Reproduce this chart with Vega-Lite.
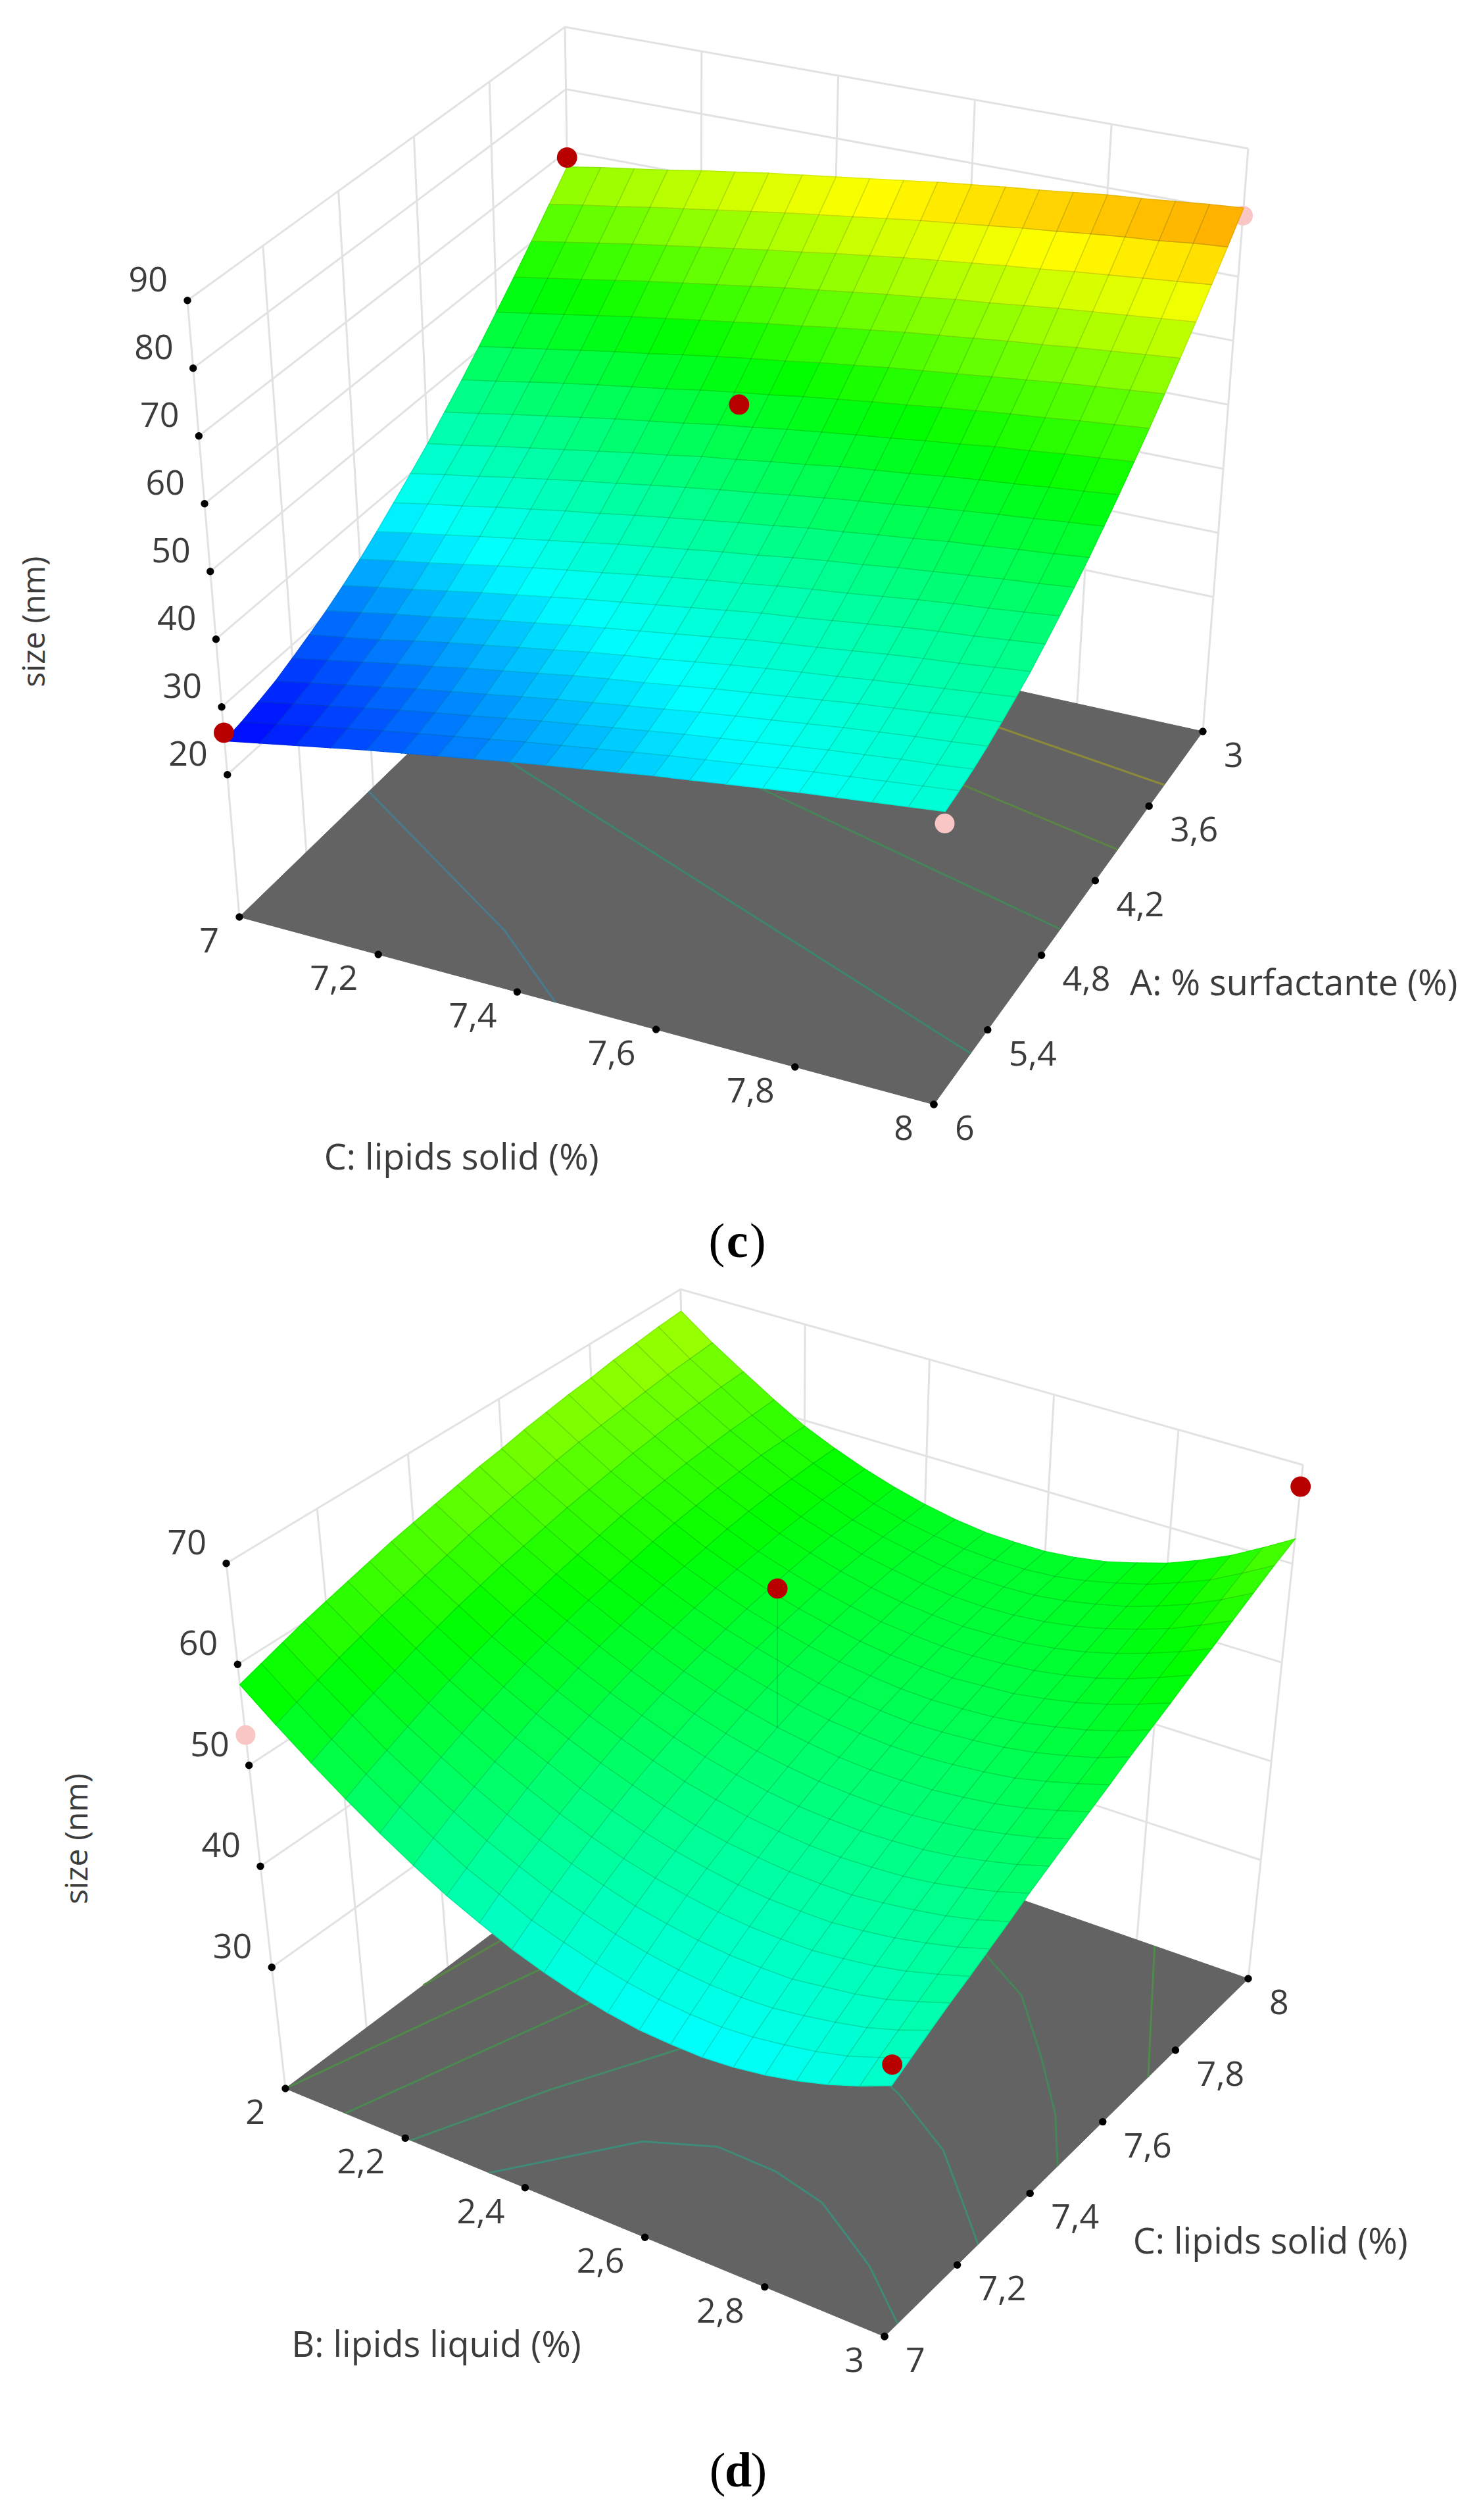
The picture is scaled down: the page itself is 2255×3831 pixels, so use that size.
{"$schema":"https://vega.github.io/schema/vega-lite/v6.json","autosize":{"type":"fit","contains":"padding"},"width":2255,"height":3831,"padding":0,"background":"white","config":{"view":{"stroke":null}},
"params":[{"name":"P","value":{"c":{"f":-1,"x":[364,1420,1829,873],"y":[1394,1679,1112,901],"s":[-0.868,0.41,0.758,-0.154],"r":[10.3,10.6,9.74,9.45]},"d":{"f":18,"x":[434,1345,1898,1051],"y":[3175,3552,3008,2713],"s":[-1.73,0.45,1.6,-0.31],"r":[15.35,15.9,15.02,14.48]}}}],
"data":{"values":[
{"k":"g","g":"c20","p":"c","h":7,"w":6,"z":20},{"k":"g","g":"c20","p":"c","h":7,"w":3,"z":20},{"k":"g","g":"c20","p":"c","h":8,"w":3,"z":20},
{"k":"g","g":"c30","p":"c","h":7,"w":6,"z":30},{"k":"g","g":"c30","p":"c","h":7,"w":3,"z":30},{"k":"g","g":"c30","p":"c","h":8,"w":3,"z":30},
{"k":"g","g":"c40","p":"c","h":7,"w":6,"z":40},{"k":"g","g":"c40","p":"c","h":7,"w":3,"z":40},{"k":"g","g":"c40","p":"c","h":8,"w":3,"z":40},
{"k":"g","g":"c50","p":"c","h":7,"w":6,"z":50},{"k":"g","g":"c50","p":"c","h":7,"w":3,"z":50},{"k":"g","g":"c50","p":"c","h":8,"w":3,"z":50},
{"k":"g","g":"c60","p":"c","h":7,"w":6,"z":60},{"k":"g","g":"c60","p":"c","h":7,"w":3,"z":60},{"k":"g","g":"c60","p":"c","h":8,"w":3,"z":60},
{"k":"g","g":"c70","p":"c","h":7,"w":6,"z":70},{"k":"g","g":"c70","p":"c","h":7,"w":3,"z":70},{"k":"g","g":"c70","p":"c","h":8,"w":3,"z":70},
{"k":"g","g":"c80","p":"c","h":7,"w":6,"z":80},{"k":"g","g":"c80","p":"c","h":7,"w":3,"z":80},{"k":"g","g":"c80","p":"c","h":8,"w":3,"z":80},
{"k":"g","g":"c90","p":"c","h":7,"w":6,"z":90},{"k":"g","g":"c90","p":"c","h":7,"w":3,"z":90},{"k":"g","g":"c90","p":"c","h":8,"w":3,"z":90},
{"k":"g","g":"cv1","p":"c","h":7,"w":6,"z":-1},{"k":"g","g":"cv1","p":"c","h":7,"w":6,"z":90},
{"k":"g","g":"cv2","p":"c","h":7,"w":5.4,"z":-1},{"k":"g","g":"cv2","p":"c","h":7,"w":5.4,"z":90},
{"k":"g","g":"cv3","p":"c","h":7,"w":4.8,"z":-1},{"k":"g","g":"cv3","p":"c","h":7,"w":4.8,"z":90},
{"k":"g","g":"cv4","p":"c","h":7,"w":4.2,"z":-1},{"k":"g","g":"cv4","p":"c","h":7,"w":4.2,"z":90},
{"k":"g","g":"cv5","p":"c","h":7,"w":3.6,"z":-1},{"k":"g","g":"cv5","p":"c","h":7,"w":3.6,"z":90},
{"k":"g","g":"cv6","p":"c","h":7,"w":3,"z":-1},{"k":"g","g":"cv6","p":"c","h":7,"w":3,"z":90},
{"k":"g","g":"cv7","p":"c","h":7.2,"w":3,"z":-1},{"k":"g","g":"cv7","p":"c","h":7.2,"w":3,"z":90},
{"k":"g","g":"cv8","p":"c","h":7.4,"w":3,"z":-1},{"k":"g","g":"cv8","p":"c","h":7.4,"w":3,"z":90},
{"k":"g","g":"cv9","p":"c","h":7.6,"w":3,"z":-1},{"k":"g","g":"cv9","p":"c","h":7.6,"w":3,"z":90},
{"k":"g","g":"cv10","p":"c","h":7.8,"w":3,"z":-1},{"k":"g","g":"cv10","p":"c","h":7.8,"w":3,"z":90},
{"k":"g","g":"cv11","p":"c","h":8,"w":3,"z":-1},{"k":"g","g":"cv11","p":"c","h":8,"w":3,"z":90},
{"k":"g","g":"d30","p":"d","h":2,"w":7,"z":30},{"k":"g","g":"d30","p":"d","h":2,"w":8,"z":30},{"k":"g","g":"d30","p":"d","h":3,"w":8,"z":30},
{"k":"g","g":"d40","p":"d","h":2,"w":7,"z":40},{"k":"g","g":"d40","p":"d","h":2,"w":8,"z":40},{"k":"g","g":"d40","p":"d","h":3,"w":8,"z":40},
{"k":"g","g":"d50","p":"d","h":2,"w":7,"z":50},{"k":"g","g":"d50","p":"d","h":2,"w":8,"z":50},{"k":"g","g":"d50","p":"d","h":3,"w":8,"z":50},
{"k":"g","g":"d60","p":"d","h":2,"w":7,"z":60},{"k":"g","g":"d60","p":"d","h":2,"w":8,"z":60},{"k":"g","g":"d60","p":"d","h":3,"w":8,"z":60},
{"k":"g","g":"d70","p":"d","h":2,"w":7,"z":70},{"k":"g","g":"d70","p":"d","h":2,"w":8,"z":70},{"k":"g","g":"d70","p":"d","h":3,"w":8,"z":70},
{"k":"g","g":"dv1","p":"d","h":2,"w":7,"z":18},{"k":"g","g":"dv1","p":"d","h":2,"w":7,"z":70},
{"k":"g","g":"dv2","p":"d","h":2,"w":7.2,"z":18},{"k":"g","g":"dv2","p":"d","h":2,"w":7.2,"z":70},
{"k":"g","g":"dv3","p":"d","h":2,"w":7.4,"z":18},{"k":"g","g":"dv3","p":"d","h":2,"w":7.4,"z":70},
{"k":"g","g":"dv4","p":"d","h":2,"w":7.6,"z":18},{"k":"g","g":"dv4","p":"d","h":2,"w":7.6,"z":70},
{"k":"g","g":"dv5","p":"d","h":2,"w":7.8,"z":18},{"k":"g","g":"dv5","p":"d","h":2,"w":7.8,"z":70},
{"k":"g","g":"dv6","p":"d","h":2,"w":8,"z":18},{"k":"g","g":"dv6","p":"d","h":2,"w":8,"z":70},
{"k":"g","g":"dv7","p":"d","h":2.2,"w":8,"z":18},{"k":"g","g":"dv7","p":"d","h":2.2,"w":8,"z":70},
{"k":"g","g":"dv8","p":"d","h":2.4,"w":8,"z":18},{"k":"g","g":"dv8","p":"d","h":2.4,"w":8,"z":70},
{"k":"g","g":"dv9","p":"d","h":2.6,"w":8,"z":18},{"k":"g","g":"dv9","p":"d","h":2.6,"w":8,"z":70},
{"k":"g","g":"dv10","p":"d","h":2.8,"w":8,"z":18},{"k":"g","g":"dv10","p":"d","h":2.8,"w":8,"z":70},
{"k":"g","g":"dv11","p":"d","h":3,"w":8,"z":18},{"k":"g","g":"dv11","p":"d","h":3,"w":8,"z":70},
{"k":"f","g":"c","p":"c","h":7,"w":6,"z":-1},{"k":"f","g":"c","p":"c","h":8,"w":6,"z":-1},{"k":"f","g":"c","p":"c","h":8,"w":3,"z":-1},{"k":"f","g":"c","p":"c","h":7,"w":3,"z":-1},
{"k":"f","g":"d","p":"d","h":2,"w":7,"z":18},{"k":"f","g":"d","p":"d","h":3,"w":7,"z":18},{"k":"f","g":"d","p":"d","h":3,"w":8,"z":18},{"k":"f","g":"d","p":"d","h":2,"w":8,"z":18},
{"k":"n","g":"c1","p":"c","h":7,"w":4.84,"z":-1},{"k":"n","g":"c1","p":"c","h":7.214,"w":5.34,"z":-1},{"k":"n","g":"c1","p":"c","h":7.32,"w":5.59,"z":-1},{"k":"n","g":"c1","p":"c","h":7.455,"w":6,"z":-1},
{"k":"n","g":"c2","p":"c","h":7,"w":4.17,"z":-1},{"k":"n","g":"c2","p":"c","h":7.116,"w":4.34,"z":-1},{"k":"n","g":"c2","p":"c","h":7.524,"w":4.92,"z":-1},{"k":"n","g":"c2","p":"c","h":8,"w":5.59,"z":-1},
{"k":"n","g":"c3","p":"c","h":7,"w":3.69,"z":-1},{"k":"n","g":"c3","p":"c","h":7.413,"w":4.06,"z":-1},{"k":"n","g":"c3","p":"c","h":8,"w":4.59,"z":-1},
{"k":"n","g":"c4","p":"c","h":7.5,"w":3.59,"z":-1},{"k":"n","g":"c4","p":"c","h":7.727,"w":3.75,"z":-1},{"k":"n","g":"c4","p":"c","h":8,"w":3.95,"z":-1},
{"k":"n","g":"c5","p":"c","h":7.6,"w":3.2,"z":-1},{"k":"n","g":"c5","p":"c","h":7.718,"w":3.29,"z":-1},{"k":"n","g":"c5","p":"c","h":8,"w":3.43,"z":-1},
{"k":"n","g":"d0","p":"d","h":2,"w":7.34,"z":18},{"k":"n","g":"d0","p":"d","h":2.02,"w":7.5,"z":18},{"k":"n","g":"d0","p":"d","h":2.1,"w":7.8,"z":18},
{"k":"n","g":"d1","p":"d","h":2,"w":7,"z":18},{"k":"n","g":"d1","p":"d","h":2.108,"w":7.467,"z":18},{"k":"n","g":"d1","p":"d","h":2.2,"w":7.9,"z":18},
{"k":"n","g":"d2","p":"d","h":2.1,"w":7,"z":18},{"k":"n","g":"d2","p":"d","h":2.217,"w":7.446,"z":18},{"k":"n","g":"d2","p":"d","h":2.33,"w":7.9,"z":18},
{"k":"n","g":"d3","p":"d","h":2.209,"w":7,"z":18},{"k":"n","g":"d3","p":"d","h":2.295,"w":7.226,"z":18},{"k":"n","g":"d3","p":"d","h":2.398,"w":7.439,"z":18},{"k":"n","g":"d3","p":"d","h":2.5,"w":7.7,"z":18},
{"k":"n","g":"d4","p":"d","h":2.34,"w":7,"z":18},{"k":"n","g":"d4","p":"d","h":2.471,"w":7.194,"z":18},{"k":"n","g":"d4","p":"d","h":2.565,"w":7.245,"z":18},{"k":"n","g":"d4","p":"d","h":2.665,"w":7.242,"z":18},{"k":"n","g":"d4","p":"d","h":2.761,"w":7.216,"z":18},{"k":"n","g":"d4","p":"d","h":2.897,"w":7.127,"z":18},{"k":"n","g":"d4","p":"d","h":3,"w":7.036,"z":18},
{"k":"n","g":"d5","p":"d","h":2.6,"w":7.55,"z":18},{"k":"n","g":"d5","p":"d","h":2.711,"w":7.499,"z":18},{"k":"n","g":"d5","p":"d","h":2.839,"w":7.419,"z":18},{"k":"n","g":"d5","p":"d","h":2.968,"w":7.29,"z":18},{"k":"n","g":"d5","p":"d","h":3,"w":7.257,"z":18},
{"k":"n","g":"d6","p":"d","h":2.62,"w":7.86,"z":18},{"k":"n","g":"d6","p":"d","h":2.729,"w":7.798,"z":18},{"k":"n","g":"d6","p":"d","h":2.837,"w":7.686,"z":18},{"k":"n","g":"d6","p":"d","h":2.93,"w":7.58,"z":18},{"k":"n","g":"d6","p":"d","h":3,"w":7.476,"z":18},
{"k":"n","g":"d7","p":"d","h":2.832,"w":8,"z":18},{"k":"n","g":"d7","p":"d","h":2.9,"w":7.89,"z":18},{"k":"n","g":"d7","p":"d","h":3,"w":7.725,"z":18},
{"k":"t","a":"z","p":"c","h":7,"w":6,"z":20},{"k":"t","a":"z","p":"c","h":7,"w":6,"z":30},{"k":"t","a":"z","p":"c","h":7,"w":6,"z":40},{"k":"t","a":"z","p":"c","h":7,"w":6,"z":50},{"k":"t","a":"z","p":"c","h":7,"w":6,"z":60},{"k":"t","a":"z","p":"c","h":7,"w":6,"z":70},{"k":"t","a":"z","p":"c","h":7,"w":6,"z":80},{"k":"t","a":"z","p":"c","h":7,"w":6,"z":90},
{"k":"t","a":"u","p":"c","h":7,"w":6,"z":-1},{"k":"t","a":"u","p":"c","h":7.2,"w":6,"z":-1},{"k":"t","a":"u","p":"c","h":7.4,"w":6,"z":-1},{"k":"t","a":"u","p":"c","h":7.6,"w":6,"z":-1},{"k":"t","a":"u","p":"c","h":7.8,"w":6,"z":-1},{"k":"t","a":"u","p":"c","h":8,"w":6,"z":-1},
{"k":"t","a":"v","p":"c","h":8,"w":6,"z":-1},{"k":"t","a":"v","p":"c","h":8,"w":5.4,"z":-1},{"k":"t","a":"v","p":"c","h":8,"w":4.8,"z":-1},{"k":"t","a":"v","p":"c","h":8,"w":4.2,"z":-1},{"k":"t","a":"v","p":"c","h":8,"w":3.6,"z":-1},{"k":"t","a":"v","p":"c","h":8,"w":3,"z":-1},
{"k":"t","a":"z","p":"d","h":2,"w":7,"z":30},{"k":"t","a":"z","p":"d","h":2,"w":7,"z":40},{"k":"t","a":"z","p":"d","h":2,"w":7,"z":50},{"k":"t","a":"z","p":"d","h":2,"w":7,"z":60},{"k":"t","a":"z","p":"d","h":2,"w":7,"z":70},
{"k":"t","a":"u","p":"d","h":2,"w":7,"z":18},{"k":"t","a":"u","p":"d","h":2.2,"w":7,"z":18},{"k":"t","a":"u","p":"d","h":2.4,"w":7,"z":18},{"k":"t","a":"u","p":"d","h":2.6,"w":7,"z":18},{"k":"t","a":"u","p":"d","h":2.8,"w":7,"z":18},{"k":"t","a":"u","p":"d","h":3,"w":7,"z":18},
{"k":"t","a":"v","p":"d","h":3,"w":7,"z":18},{"k":"t","a":"v","p":"d","h":3,"w":7.2,"z":18},{"k":"t","a":"v","p":"d","h":3,"w":7.4,"z":18},{"k":"t","a":"v","p":"d","h":3,"w":7.6,"z":18},{"k":"t","a":"v","p":"d","h":3,"w":7.8,"z":18},{"k":"t","a":"v","p":"d","h":3,"w":8,"z":18},
{"k":"a","l":"C: lipids solid (%)","p":"c","h":7.504,"w":7.272,"z":-1},{"k":"a","l":"A: % surfactante (%)","p":"c","h":8.35,"w":4.575,"z":-1},
{"k":"a","l":"B: lipids liquid (%)","p":"d","h":2.508,"w":6.601,"z":18},{"k":"a","l":"C: lipids solid (%)","p":"d","h":3.362,"w":7.485,"z":18},
{"k":"y","l":"size (nm)","p":"c","h":7,"w":7.38,"z":62.2},{"k":"y","l":"size (nm)","p":"d","h":2,"w":6.62,"z":53.4},
{"k":"cap","b":"c","p":"c","h":7.889,"w":7.2975,"z":-1},{"k":"cap","b":"d","p":"d","h":2.99,"w":6.6145,"z":18},
{"k":"o","r":"low","p":"c","h":8,"w":3,"z":79.5},{"k":"o","r":"low","p":"c","h":8,"w":6,"z":39.3},{"k":"o","r":"low","p":"d","h":2,"w":7,"z":53},
{"k":"o","r":"high","p":"c","h":7,"w":3,"z":69},{"k":"o","r":"high","p":"c","h":7.5,"w":4.5,"z":64.5},{"k":"o","r":"high","p":"c","h":7,"w":6,"z":26.2},
{"k":"o","r":"high","p":"d","h":2.5,"w":7.5,"z":63.9},{"k":"o","r":"high","p":"d","h":3,"w":8,"z":67.8},{"k":"o","r":"high","p":"d","h":3,"w":7,"z":44},
{"k":"m","p":"d","h":2.5,"w":7.5,"z":63.9},{"k":"m","p":"d","h":2.5,"w":7.5,"z":50},
{"p":"c","h":7,"w":6,"z":25},{"p":"c","h":7.05,"w":6,"z":26},{"p":"c","h":7.1,"w":6,"z":27},{"p":"c","h":7.15,"w":6,"z":28},{"p":"c","h":7.2,"w":6,"z":29},{"p":"c","h":7.25,"w":6,"z":29.9},{"p":"c","h":7.3,"w":6,"z":30.8},{"p":"c","h":7.35,"w":6,"z":31.7},{"p":"c","h":7.4,"w":6,"z":32.6},{"p":"c","h":7.45,"w":6,"z":33.4},{"p":"c","h":7.5,"w":6,"z":34.2},{"p":"c","h":7.55,"w":6,"z":35},{"p":"c","h":7.6,"w":6,"z":35.8},{"p":"c","h":7.65,"w":6,"z":36.5},{"p":"c","h":7.7,"w":6,"z":37.2},{"p":"c","h":7.75,"w":6,"z":37.9},{"p":"c","h":7.8,"w":6,"z":38.6},{"p":"c","h":7.85,"w":6,"z":39.2},{"p":"c","h":7.9,"w":6,"z":39.8},{"p":"c","h":7.95,"w":6,"z":40.4},{"p":"c","h":8,"w":6,"z":41},
{"p":"c","h":7,"w":5.85,"z":25.5},{"p":"c","h":7.05,"w":5.85,"z":26.5},{"p":"c","h":7.1,"w":5.85,"z":27.5},{"p":"c","h":7.15,"w":5.85,"z":28.5},{"p":"c","h":7.2,"w":5.85,"z":29.5},{"p":"c","h":7.25,"w":5.85,"z":30.4},{"p":"c","h":7.3,"w":5.85,"z":31.3},{"p":"c","h":7.35,"w":5.85,"z":32.2},{"p":"c","h":7.4,"w":5.85,"z":33.1},{"p":"c","h":7.45,"w":5.85,"z":33.9},{"p":"c","h":7.5,"w":5.85,"z":34.7},{"p":"c","h":7.55,"w":5.85,"z":35.5},{"p":"c","h":7.6,"w":5.85,"z":36.3},{"p":"c","h":7.65,"w":5.85,"z":37},{"p":"c","h":7.7,"w":5.85,"z":37.7},{"p":"c","h":7.75,"w":5.85,"z":38.4},{"p":"c","h":7.8,"w":5.85,"z":39.1},{"p":"c","h":7.85,"w":5.85,"z":39.7},{"p":"c","h":7.9,"w":5.85,"z":40.3},{"p":"c","h":7.95,"w":5.85,"z":40.9},{"p":"c","h":8,"w":5.85,"z":41.5},
{"p":"c","h":7,"w":5.7,"z":26.2},{"p":"c","h":7.05,"w":5.7,"z":27.2},{"p":"c","h":7.1,"w":5.7,"z":28.2},{"p":"c","h":7.15,"w":5.7,"z":29.2},{"p":"c","h":7.2,"w":5.7,"z":30.2},{"p":"c","h":7.25,"w":5.7,"z":31.1},{"p":"c","h":7.3,"w":5.7,"z":32},{"p":"c","h":7.35,"w":5.7,"z":32.9},{"p":"c","h":7.4,"w":5.7,"z":33.8},{"p":"c","h":7.45,"w":5.7,"z":34.6},{"p":"c","h":7.5,"w":5.7,"z":35.4},{"p":"c","h":7.55,"w":5.7,"z":36.2},{"p":"c","h":7.6,"w":5.7,"z":37},{"p":"c","h":7.65,"w":5.7,"z":37.7},{"p":"c","h":7.7,"w":5.7,"z":38.4},{"p":"c","h":7.75,"w":5.7,"z":39.1},{"p":"c","h":7.8,"w":5.7,"z":39.8},{"p":"c","h":7.85,"w":5.7,"z":40.4},{"p":"c","h":7.9,"w":5.7,"z":41},{"p":"c","h":7.95,"w":5.7,"z":41.5},{"p":"c","h":8,"w":5.7,"z":42.1},
{"p":"c","h":7,"w":5.55,"z":27},{"p":"c","h":7.05,"w":5.55,"z":28},{"p":"c","h":7.1,"w":5.55,"z":29},{"p":"c","h":7.15,"w":5.55,"z":30},{"p":"c","h":7.2,"w":5.55,"z":31},{"p":"c","h":7.25,"w":5.55,"z":31.9},{"p":"c","h":7.3,"w":5.55,"z":32.8},{"p":"c","h":7.35,"w":5.55,"z":33.7},{"p":"c","h":7.4,"w":5.55,"z":34.6},{"p":"c","h":7.45,"w":5.55,"z":35.4},{"p":"c","h":7.5,"w":5.55,"z":36.2},{"p":"c","h":7.55,"w":5.55,"z":37},{"p":"c","h":7.6,"w":5.55,"z":37.8},{"p":"c","h":7.65,"w":5.55,"z":38.5},{"p":"c","h":7.7,"w":5.55,"z":39.2},{"p":"c","h":7.75,"w":5.55,"z":39.9},{"p":"c","h":7.8,"w":5.55,"z":40.6},{"p":"c","h":7.85,"w":5.55,"z":41.2},{"p":"c","h":7.9,"w":5.55,"z":41.8},{"p":"c","h":7.95,"w":5.55,"z":42.3},{"p":"c","h":8,"w":5.55,"z":42.9},
{"p":"c","h":7,"w":5.4,"z":28.1},{"p":"c","h":7.05,"w":5.4,"z":29.1},{"p":"c","h":7.1,"w":5.4,"z":30.1},{"p":"c","h":7.15,"w":5.4,"z":31.1},{"p":"c","h":7.2,"w":5.4,"z":32},{"p":"c","h":7.25,"w":5.4,"z":33},{"p":"c","h":7.3,"w":5.4,"z":33.9},{"p":"c","h":7.35,"w":5.4,"z":34.8},{"p":"c","h":7.4,"w":5.4,"z":35.7},{"p":"c","h":7.45,"w":5.4,"z":36.5},{"p":"c","h":7.5,"w":5.4,"z":37.2},{"p":"c","h":7.55,"w":5.4,"z":38},{"p":"c","h":7.6,"w":5.4,"z":38.8},{"p":"c","h":7.65,"w":5.4,"z":39.5},{"p":"c","h":7.7,"w":5.4,"z":40.2},{"p":"c","h":7.75,"w":5.4,"z":40.9},{"p":"c","h":7.8,"w":5.4,"z":41.6},{"p":"c","h":7.85,"w":5.4,"z":42.2},{"p":"c","h":7.9,"w":5.4,"z":42.8},{"p":"c","h":7.95,"w":5.4,"z":43.4},{"p":"c","h":8,"w":5.4,"z":43.9},
{"p":"c","h":7,"w":5.25,"z":29.3},{"p":"c","h":7.05,"w":5.25,"z":30.2},{"p":"c","h":7.1,"w":5.25,"z":31.1},{"p":"c","h":7.15,"w":5.25,"z":32.2},{"p":"c","h":7.2,"w":5.25,"z":33.2},{"p":"c","h":7.25,"w":5.25,"z":34.1},{"p":"c","h":7.3,"w":5.25,"z":35},{"p":"c","h":7.35,"w":5.25,"z":35.9},{"p":"c","h":7.4,"w":5.25,"z":36.8},{"p":"c","h":7.45,"w":5.25,"z":37.6},{"p":"c","h":7.5,"w":5.25,"z":38.3},{"p":"c","h":7.55,"w":5.25,"z":39.1},{"p":"c","h":7.6,"w":5.25,"z":39.9},{"p":"c","h":7.65,"w":5.25,"z":40.6},{"p":"c","h":7.7,"w":5.25,"z":41.3},{"p":"c","h":7.75,"w":5.25,"z":41.9},{"p":"c","h":7.8,"w":5.25,"z":42.6},{"p":"c","h":7.85,"w":5.25,"z":43.2},{"p":"c","h":7.9,"w":5.25,"z":43.8},{"p":"c","h":7.95,"w":5.25,"z":44.4},{"p":"c","h":8,"w":5.25,"z":45},
{"p":"c","h":7,"w":5.1,"z":30.6},{"p":"c","h":7.05,"w":5.1,"z":31.6},{"p":"c","h":7.1,"w":5.1,"z":32.6},{"p":"c","h":7.15,"w":5.1,"z":33.5},{"p":"c","h":7.2,"w":5.1,"z":34.5},{"p":"c","h":7.25,"w":5.1,"z":35.4},{"p":"c","h":7.3,"w":5.1,"z":36.3},{"p":"c","h":7.35,"w":5.1,"z":37.2},{"p":"c","h":7.4,"w":5.1,"z":38},{"p":"c","h":7.45,"w":5.1,"z":38.8},{"p":"c","h":7.5,"w":5.1,"z":39.6},{"p":"c","h":7.55,"w":5.1,"z":40.4},{"p":"c","h":7.6,"w":5.1,"z":41.2},{"p":"c","h":7.65,"w":5.1,"z":41.9},{"p":"c","h":7.7,"w":5.1,"z":42.5},{"p":"c","h":7.75,"w":5.1,"z":43.2},{"p":"c","h":7.8,"w":5.1,"z":43.9},{"p":"c","h":7.85,"w":5.1,"z":44.5},{"p":"c","h":7.9,"w":5.1,"z":45},{"p":"c","h":7.95,"w":5.1,"z":45.6},{"p":"c","h":8,"w":5.1,"z":46.2},
{"p":"c","h":7,"w":4.95,"z":32.1},{"p":"c","h":7.05,"w":4.95,"z":33.1},{"p":"c","h":7.1,"w":4.95,"z":34},{"p":"c","h":7.15,"w":4.95,"z":35},{"p":"c","h":7.2,"w":4.95,"z":36},{"p":"c","h":7.25,"w":4.95,"z":36.9},{"p":"c","h":7.3,"w":4.95,"z":37.8},{"p":"c","h":7.35,"w":4.95,"z":38.7},{"p":"c","h":7.4,"w":4.95,"z":39.5},{"p":"c","h":7.45,"w":4.95,"z":40.3},{"p":"c","h":7.5,"w":4.95,"z":41.1},{"p":"c","h":7.55,"w":4.95,"z":41.9},{"p":"c","h":7.6,"w":4.95,"z":42.7},{"p":"c","h":7.65,"w":4.95,"z":43.3},{"p":"c","h":7.7,"w":4.95,"z":44},{"p":"c","h":7.75,"w":4.95,"z":44.7},{"p":"c","h":7.8,"w":4.95,"z":45.4},{"p":"c","h":7.85,"w":4.95,"z":46},{"p":"c","h":7.9,"w":4.95,"z":46.5},{"p":"c","h":7.95,"w":4.95,"z":47.1},{"p":"c","h":8,"w":4.95,"z":47.7},
{"p":"c","h":7,"w":4.8,"z":33.8},{"p":"c","h":7.05,"w":4.8,"z":34.8},{"p":"c","h":7.1,"w":4.8,"z":35.7},{"p":"c","h":7.15,"w":4.8,"z":36.7},{"p":"c","h":7.2,"w":4.8,"z":37.7},{"p":"c","h":7.25,"w":4.8,"z":38.6},{"p":"c","h":7.3,"w":4.8,"z":39.5},{"p":"c","h":7.35,"w":4.8,"z":40.3},{"p":"c","h":7.4,"w":4.8,"z":41.2},{"p":"c","h":7.45,"w":4.8,"z":42},{"p":"c","h":7.5,"w":4.8,"z":42.8},{"p":"c","h":7.55,"w":4.8,"z":43.5},{"p":"c","h":7.6,"w":4.8,"z":44.3},{"p":"c","h":7.65,"w":4.8,"z":45},{"p":"c","h":7.7,"w":4.8,"z":45.6},{"p":"c","h":7.75,"w":4.8,"z":46.3},{"p":"c","h":7.8,"w":4.8,"z":47},{"p":"c","h":7.85,"w":4.8,"z":47.6},{"p":"c","h":7.9,"w":4.8,"z":48.1},{"p":"c","h":7.95,"w":4.8,"z":48.7},{"p":"c","h":8,"w":4.8,"z":49.3},
{"p":"c","h":7,"w":4.65,"z":35.7},{"p":"c","h":7.05,"w":4.65,"z":36.7},{"p":"c","h":7.1,"w":4.65,"z":37.6},{"p":"c","h":7.15,"w":4.65,"z":38.6},{"p":"c","h":7.2,"w":4.65,"z":39.5},{"p":"c","h":7.25,"w":4.65,"z":40.4},{"p":"c","h":7.3,"w":4.65,"z":41.3},{"p":"c","h":7.35,"w":4.65,"z":42.2},{"p":"c","h":7.4,"w":4.65,"z":43},{"p":"c","h":7.45,"w":4.65,"z":43.8},{"p":"c","h":7.5,"w":4.65,"z":44.6},{"p":"c","h":7.55,"w":4.65,"z":45.3},{"p":"c","h":7.6,"w":4.65,"z":46.1},{"p":"c","h":7.65,"w":4.65,"z":46.8},{"p":"c","h":7.7,"w":4.65,"z":47.4},{"p":"c","h":7.75,"w":4.65,"z":48.1},{"p":"c","h":7.8,"w":4.65,"z":48.7},{"p":"c","h":7.85,"w":4.65,"z":49.3},{"p":"c","h":7.9,"w":4.65,"z":49.9},{"p":"c","h":7.95,"w":4.65,"z":50.4},{"p":"c","h":8,"w":4.65,"z":51},
{"p":"c","h":7,"w":4.5,"z":37.8},{"p":"c","h":7.05,"w":4.5,"z":38.8},{"p":"c","h":7.1,"w":4.5,"z":39.7},{"p":"c","h":7.15,"w":4.5,"z":40.7},{"p":"c","h":7.2,"w":4.5,"z":41.6},{"p":"c","h":7.25,"w":4.5,"z":42.5},{"p":"c","h":7.3,"w":4.5,"z":43.3},{"p":"c","h":7.35,"w":4.5,"z":44.2},{"p":"c","h":7.4,"w":4.5,"z":45},{"p":"c","h":7.45,"w":4.5,"z":45.8},{"p":"c","h":7.5,"w":4.5,"z":46.6},{"p":"c","h":7.55,"w":4.5,"z":47.3},{"p":"c","h":7.6,"w":4.5,"z":48.1},{"p":"c","h":7.65,"w":4.5,"z":48.7},{"p":"c","h":7.7,"w":4.5,"z":49.4},{"p":"c","h":7.75,"w":4.5,"z":50},{"p":"c","h":7.8,"w":4.5,"z":50.7},{"p":"c","h":7.85,"w":4.5,"z":51.2},{"p":"c","h":7.9,"w":4.5,"z":51.8},{"p":"c","h":7.95,"w":4.5,"z":52.3},{"p":"c","h":8,"w":4.5,"z":52.9},
{"p":"c","h":7,"w":4.35,"z":40},{"p":"c","h":7.05,"w":4.35,"z":41},{"p":"c","h":7.1,"w":4.35,"z":41.9},{"p":"c","h":7.15,"w":4.35,"z":42.9},{"p":"c","h":7.2,"w":4.35,"z":43.8},{"p":"c","h":7.25,"w":4.35,"z":44.7},{"p":"c","h":7.3,"w":4.35,"z":45.5},{"p":"c","h":7.35,"w":4.35,"z":46.4},{"p":"c","h":7.4,"w":4.35,"z":47.2},{"p":"c","h":7.45,"w":4.35,"z":48},{"p":"c","h":7.5,"w":4.35,"z":48.7},{"p":"c","h":7.55,"w":4.35,"z":49.5},{"p":"c","h":7.6,"w":4.35,"z":50.2},{"p":"c","h":7.65,"w":4.35,"z":50.9},{"p":"c","h":7.7,"w":4.35,"z":51.5},{"p":"c","h":7.75,"w":4.35,"z":52.2},{"p":"c","h":7.8,"w":4.35,"z":52.8},{"p":"c","h":7.85,"w":4.35,"z":53.4},{"p":"c","h":7.9,"w":4.35,"z":53.9},{"p":"c","h":7.95,"w":4.35,"z":54.5},{"p":"c","h":8,"w":4.35,"z":55},
{"p":"c","h":7,"w":4.2,"z":42.3},{"p":"c","h":7.05,"w":4.2,"z":43.2},{"p":"c","h":7.1,"w":4.2,"z":44.2},{"p":"c","h":7.15,"w":4.2,"z":45.1},{"p":"c","h":7.2,"w":4.2,"z":46},{"p":"c","h":7.25,"w":4.2,"z":46.9},{"p":"c","h":7.3,"w":4.2,"z":47.8},{"p":"c","h":7.35,"w":4.2,"z":48.6},{"p":"c","h":7.4,"w":4.2,"z":49.5},{"p":"c","h":7.45,"w":4.2,"z":50.2},{"p":"c","h":7.5,"w":4.2,"z":51},{"p":"c","h":7.55,"w":4.2,"z":51.7},{"p":"c","h":7.6,"w":4.2,"z":52.5},{"p":"c","h":7.65,"w":4.2,"z":53.1},{"p":"c","h":7.7,"w":4.2,"z":53.7},{"p":"c","h":7.75,"w":4.2,"z":54.4},{"p":"c","h":7.8,"w":4.2,"z":55},{"p":"c","h":7.85,"w":4.2,"z":55.5},{"p":"c","h":7.9,"w":4.2,"z":56.1},{"p":"c","h":7.95,"w":4.2,"z":56.6},{"p":"c","h":8,"w":4.2,"z":57.2},
{"p":"c","h":7,"w":4.05,"z":44.9},{"p":"c","h":7.05,"w":4.05,"z":45.8},{"p":"c","h":7.1,"w":4.05,"z":46.8},{"p":"c","h":7.15,"w":4.05,"z":47.7},{"p":"c","h":7.2,"w":4.05,"z":48.6},{"p":"c","h":7.25,"w":4.05,"z":49.5},{"p":"c","h":7.3,"w":4.05,"z":50.3},{"p":"c","h":7.35,"w":4.05,"z":51.1},{"p":"c","h":7.4,"w":4.05,"z":52},{"p":"c","h":7.45,"w":4.05,"z":52.7},{"p":"c","h":7.5,"w":4.05,"z":53.5},{"p":"c","h":7.55,"w":4.05,"z":54.2},{"p":"c","h":7.6,"w":4.05,"z":54.9},{"p":"c","h":7.65,"w":4.05,"z":55.5},{"p":"c","h":7.7,"w":4.05,"z":56.2},{"p":"c","h":7.75,"w":4.05,"z":56.8},{"p":"c","h":7.8,"w":4.05,"z":57.5},{"p":"c","h":7.85,"w":4.05,"z":58},{"p":"c","h":7.9,"w":4.05,"z":58.6},{"p":"c","h":7.95,"w":4.05,"z":59.1},{"p":"c","h":8,"w":4.05,"z":59.6},
{"p":"c","h":7,"w":3.9,"z":47.6},{"p":"c","h":7.05,"w":3.9,"z":48.5},{"p":"c","h":7.1,"w":3.9,"z":49.5},{"p":"c","h":7.15,"w":3.9,"z":50.4},{"p":"c","h":7.2,"w":3.9,"z":51.3},{"p":"c","h":7.25,"w":3.9,"z":52.1},{"p":"c","h":7.3,"w":3.9,"z":52.9},{"p":"c","h":7.35,"w":3.9,"z":53.8},{"p":"c","h":7.4,"w":3.9,"z":54.6},{"p":"c","h":7.45,"w":3.9,"z":55.3},{"p":"c","h":7.5,"w":3.9,"z":56.1},{"p":"c","h":7.55,"w":3.9,"z":56.8},{"p":"c","h":7.6,"w":3.9,"z":57.5},{"p":"c","h":7.65,"w":3.9,"z":58.1},{"p":"c","h":7.7,"w":3.9,"z":58.8},{"p":"c","h":7.75,"w":3.9,"z":59.4},{"p":"c","h":7.8,"w":3.9,"z":60},{"p":"c","h":7.85,"w":3.9,"z":60.5},{"p":"c","h":7.9,"w":3.9,"z":61.1},{"p":"c","h":7.95,"w":3.9,"z":61.6},{"p":"c","h":8,"w":3.9,"z":62.1},
{"p":"c","h":7,"w":3.75,"z":50.5},{"p":"c","h":7.05,"w":3.75,"z":51.4},{"p":"c","h":7.1,"w":3.75,"z":52.3},{"p":"c","h":7.15,"w":3.75,"z":53.2},{"p":"c","h":7.2,"w":3.75,"z":54.1},{"p":"c","h":7.25,"w":3.75,"z":54.9},{"p":"c","h":7.3,"w":3.75,"z":55.8},{"p":"c","h":7.35,"w":3.75,"z":56.6},{"p":"c","h":7.4,"w":3.75,"z":57.4},{"p":"c","h":7.45,"w":3.75,"z":58.1},{"p":"c","h":7.5,"w":3.75,"z":58.9},{"p":"c","h":7.55,"w":3.75,"z":59.6},{"p":"c","h":7.6,"w":3.75,"z":60.3},{"p":"c","h":7.65,"w":3.75,"z":60.9},{"p":"c","h":7.7,"w":3.75,"z":61.5},{"p":"c","h":7.75,"w":3.75,"z":62.1},{"p":"c","h":7.8,"w":3.75,"z":62.7},{"p":"c","h":7.85,"w":3.75,"z":63.3},{"p":"c","h":7.9,"w":3.75,"z":63.8},{"p":"c","h":7.95,"w":3.75,"z":64.3},{"p":"c","h":8,"w":3.75,"z":64.8},
{"p":"c","h":7,"w":3.6,"z":53.6},{"p":"c","h":7.05,"w":3.6,"z":54.5},{"p":"c","h":7.1,"w":3.6,"z":55.4},{"p":"c","h":7.15,"w":3.6,"z":56.3},{"p":"c","h":7.2,"w":3.6,"z":57.2},{"p":"c","h":7.25,"w":3.6,"z":58},{"p":"c","h":7.3,"w":3.6,"z":58.8},{"p":"c","h":7.35,"w":3.6,"z":59.6},{"p":"c","h":7.4,"w":3.6,"z":60.4},{"p":"c","h":7.45,"w":3.6,"z":61.1},{"p":"c","h":7.5,"w":3.6,"z":61.9},{"p":"c","h":7.55,"w":3.6,"z":62.6},{"p":"c","h":7.6,"w":3.6,"z":63.3},{"p":"c","h":7.65,"w":3.6,"z":63.9},{"p":"c","h":7.7,"w":3.6,"z":64.5},{"p":"c","h":7.75,"w":3.6,"z":65.1},{"p":"c","h":7.8,"w":3.6,"z":65.6},{"p":"c","h":7.85,"w":3.6,"z":66.2},{"p":"c","h":7.9,"w":3.6,"z":66.7},{"p":"c","h":7.95,"w":3.6,"z":67.2},{"p":"c","h":8,"w":3.6,"z":67.7},
{"p":"c","h":7,"w":3.45,"z":56.8},{"p":"c","h":7.05,"w":3.45,"z":57.7},{"p":"c","h":7.1,"w":3.45,"z":58.6},{"p":"c","h":7.15,"w":3.45,"z":59.5},{"p":"c","h":7.2,"w":3.45,"z":60.4},{"p":"c","h":7.25,"w":3.45,"z":61.2},{"p":"c","h":7.3,"w":3.45,"z":62},{"p":"c","h":7.35,"w":3.45,"z":62.8},{"p":"c","h":7.4,"w":3.45,"z":63.6},{"p":"c","h":7.45,"w":3.45,"z":64.3},{"p":"c","h":7.5,"w":3.45,"z":65},{"p":"c","h":7.55,"w":3.45,"z":65.7},{"p":"c","h":7.6,"w":3.45,"z":66.3},{"p":"c","h":7.65,"w":3.45,"z":67},{"p":"c","h":7.7,"w":3.45,"z":67.5},{"p":"c","h":7.75,"w":3.45,"z":68.1},{"p":"c","h":7.8,"w":3.45,"z":68.7},{"p":"c","h":7.85,"w":3.45,"z":69.2},{"p":"c","h":7.9,"w":3.45,"z":69.7},{"p":"c","h":7.95,"w":3.45,"z":70.2},{"p":"c","h":8,"w":3.45,"z":70.7},
{"p":"c","h":7,"w":3.3,"z":60.2},{"p":"c","h":7.05,"w":3.3,"z":61.1},{"p":"c","h":7.1,"w":3.3,"z":62},{"p":"c","h":7.15,"w":3.3,"z":62.9},{"p":"c","h":7.2,"w":3.3,"z":63.7},{"p":"c","h":7.25,"w":3.3,"z":64.5},{"p":"c","h":7.3,"w":3.3,"z":65.3},{"p":"c","h":7.35,"w":3.3,"z":66.1},{"p":"c","h":7.4,"w":3.3,"z":66.8},{"p":"c","h":7.45,"w":3.3,"z":67.6},{"p":"c","h":7.5,"w":3.3,"z":68.3},{"p":"c","h":7.55,"w":3.3,"z":69},{"p":"c","h":7.6,"w":3.3,"z":69.6},{"p":"c","h":7.65,"w":3.3,"z":70.2},{"p":"c","h":7.7,"w":3.3,"z":70.8},{"p":"c","h":7.75,"w":3.3,"z":71.3},{"p":"c","h":7.8,"w":3.3,"z":71.9},{"p":"c","h":7.85,"w":3.3,"z":72.4},{"p":"c","h":7.9,"w":3.3,"z":72.9},{"p":"c","h":7.95,"w":3.3,"z":73.4},{"p":"c","h":8,"w":3.3,"z":73.9},
{"p":"c","h":7,"w":3.15,"z":63.8},{"p":"c","h":7.05,"w":3.15,"z":64.7},{"p":"c","h":7.1,"w":3.15,"z":65.5},{"p":"c","h":7.15,"w":3.15,"z":66.4},{"p":"c","h":7.2,"w":3.15,"z":67.2},{"p":"c","h":7.25,"w":3.15,"z":68},{"p":"c","h":7.3,"w":3.15,"z":68.8},{"p":"c","h":7.35,"w":3.15,"z":69.6},{"p":"c","h":7.4,"w":3.15,"z":70.3},{"p":"c","h":7.45,"w":3.15,"z":71},{"p":"c","h":7.5,"w":3.15,"z":71.7},{"p":"c","h":7.55,"w":3.15,"z":72.4},{"p":"c","h":7.6,"w":3.15,"z":73},{"p":"c","h":7.65,"w":3.15,"z":73.6},{"p":"c","h":7.7,"w":3.15,"z":74.2},{"p":"c","h":7.75,"w":3.15,"z":74.7},{"p":"c","h":7.8,"w":3.15,"z":75.3},{"p":"c","h":7.85,"w":3.15,"z":75.8},{"p":"c","h":7.9,"w":3.15,"z":76.2},{"p":"c","h":7.95,"w":3.15,"z":76.8},{"p":"c","h":8,"w":3.15,"z":77.2},
{"p":"c","h":7,"w":3,"z":67.5},{"p":"c","h":7.05,"w":3,"z":68.4},{"p":"c","h":7.1,"w":3,"z":69.2},{"p":"c","h":7.15,"w":3,"z":70},{"p":"c","h":7.2,"w":3,"z":70.9},{"p":"c","h":7.25,"w":3,"z":71.7},{"p":"c","h":7.3,"w":3,"z":72.5},{"p":"c","h":7.35,"w":3,"z":73.2},{"p":"c","h":7.4,"w":3,"z":73.9},{"p":"c","h":7.45,"w":3,"z":74.6},{"p":"c","h":7.5,"w":3,"z":75.3},{"p":"c","h":7.55,"w":3,"z":76},{"p":"c","h":7.6,"w":3,"z":76.6},{"p":"c","h":7.65,"w":3,"z":77.2},{"p":"c","h":7.7,"w":3,"z":77.7},{"p":"c","h":7.75,"w":3,"z":78.3},{"p":"c","h":7.8,"w":3,"z":78.9},{"p":"c","h":7.85,"w":3,"z":79.3},{"p":"c","h":7.9,"w":3,"z":79.8},{"p":"c","h":7.95,"w":3,"z":80.3},{"p":"c","h":8,"w":3,"z":80.7},
{"p":"d","h":2,"w":7,"z":58},{"p":"d","h":2.05,"w":7,"z":55.2},{"p":"d","h":2.1,"w":7,"z":52.6},{"p":"d","h":2.15,"w":7,"z":50.2},{"p":"d","h":2.2,"w":7,"z":48},{"p":"d","h":2.25,"w":7,"z":46},{"p":"d","h":2.3,"w":7,"z":44.2},{"p":"d","h":2.35,"w":7,"z":42.7},{"p":"d","h":2.4,"w":7,"z":41.3},{"p":"d","h":2.45,"w":7,"z":40.2},{"p":"d","h":2.5,"w":7,"z":39.3},{"p":"d","h":2.55,"w":7,"z":38.6},{"p":"d","h":2.6,"w":7,"z":38.1},{"p":"d","h":2.65,"w":7,"z":37.9},{"p":"d","h":2.7,"w":7,"z":37.8},{"p":"d","h":2.75,"w":7,"z":38},{"p":"d","h":2.8,"w":7,"z":38.4},{"p":"d","h":2.85,"w":7,"z":39},{"p":"d","h":2.9,"w":7,"z":39.8},{"p":"d","h":2.95,"w":7,"z":40.8},{"p":"d","h":3,"w":7,"z":42},
{"p":"d","h":2,"w":7.05,"z":58.7},{"p":"d","h":2.05,"w":7.05,"z":56},{"p":"d","h":2.1,"w":7.05,"z":53.5},{"p":"d","h":2.15,"w":7.05,"z":51.2},{"p":"d","h":2.2,"w":7.05,"z":49.1},{"p":"d","h":2.25,"w":7.05,"z":47.2},{"p":"d","h":2.3,"w":7.05,"z":45.4},{"p":"d","h":2.35,"w":7.05,"z":44},{"p":"d","h":2.4,"w":7.05,"z":42.6},{"p":"d","h":2.45,"w":7.05,"z":41.6},{"p":"d","h":2.5,"w":7.05,"z":40.7},{"p":"d","h":2.55,"w":7.05,"z":40},{"p":"d","h":2.6,"w":7.05,"z":39.5},{"p":"d","h":2.65,"w":7.05,"z":39.2},{"p":"d","h":2.7,"w":7.05,"z":39.1},{"p":"d","h":2.75,"w":7.05,"z":39.3},{"p":"d","h":2.8,"w":7.05,"z":39.7},{"p":"d","h":2.85,"w":7.05,"z":40.2},{"p":"d","h":2.9,"w":7.05,"z":40.9},{"p":"d","h":2.95,"w":7.05,"z":41.9},{"p":"d","h":3,"w":7.05,"z":43},
{"p":"d","h":2,"w":7.1,"z":59.4},{"p":"d","h":2.05,"w":7.1,"z":56.8},{"p":"d","h":2.1,"w":7.1,"z":54.4},{"p":"d","h":2.15,"w":7.1,"z":52.1},{"p":"d","h":2.2,"w":7.1,"z":50.1},{"p":"d","h":2.25,"w":7.1,"z":48.3},{"p":"d","h":2.3,"w":7.1,"z":46.6},{"p":"d","h":2.35,"w":7.1,"z":45.2},{"p":"d","h":2.4,"w":7.1,"z":43.9},{"p":"d","h":2.45,"w":7.1,"z":42.9},{"p":"d","h":2.5,"w":7.1,"z":42},{"p":"d","h":2.55,"w":7.1,"z":41.3},{"p":"d","h":2.6,"w":7.1,"z":40.8},{"p":"d","h":2.65,"w":7.1,"z":40.5},{"p":"d","h":2.7,"w":7.1,"z":40.4},{"p":"d","h":2.75,"w":7.1,"z":40.5},{"p":"d","h":2.8,"w":7.1,"z":40.9},{"p":"d","h":2.85,"w":7.1,"z":41.4},{"p":"d","h":2.9,"w":7.1,"z":42},{"p":"d","h":2.95,"w":7.1,"z":42.9},{"p":"d","h":3,"w":7.1,"z":44},
{"p":"d","h":2,"w":7.15,"z":60.1},{"p":"d","h":2.05,"w":7.15,"z":57.6},{"p":"d","h":2.1,"w":7.15,"z":55.2},{"p":"d","h":2.15,"w":7.15,"z":53},{"p":"d","h":2.2,"w":7.15,"z":51.1},{"p":"d","h":2.25,"w":7.15,"z":49.3},{"p":"d","h":2.3,"w":7.15,"z":47.7},{"p":"d","h":2.35,"w":7.15,"z":46.3},{"p":"d","h":2.4,"w":7.15,"z":45.1},{"p":"d","h":2.45,"w":7.15,"z":44.1},{"p":"d","h":2.5,"w":7.15,"z":43.2},{"p":"d","h":2.55,"w":7.15,"z":42.6},{"p":"d","h":2.6,"w":7.15,"z":42.1},{"p":"d","h":2.65,"w":7.15,"z":41.8},{"p":"d","h":2.7,"w":7.15,"z":41.7},{"p":"d","h":2.75,"w":7.15,"z":41.7},{"p":"d","h":2.8,"w":7.15,"z":42.1},{"p":"d","h":2.85,"w":7.15,"z":42.5},{"p":"d","h":2.9,"w":7.15,"z":43.1},{"p":"d","h":2.95,"w":7.15,"z":44},{"p":"d","h":3,"w":7.15,"z":45},
{"p":"d","h":2,"w":7.2,"z":60.7},{"p":"d","h":2.05,"w":7.2,"z":58.3},{"p":"d","h":2.1,"w":7.2,"z":56},{"p":"d","h":2.15,"w":7.2,"z":53.9},{"p":"d","h":2.2,"w":7.2,"z":52},{"p":"d","h":2.25,"w":7.2,"z":50.3},{"p":"d","h":2.3,"w":7.2,"z":48.8},{"p":"d","h":2.35,"w":7.2,"z":47.4},{"p":"d","h":2.4,"w":7.2,"z":46.2},{"p":"d","h":2.45,"w":7.2,"z":45.2},{"p":"d","h":2.5,"w":7.2,"z":44.4},{"p":"d","h":2.55,"w":7.2,"z":43.8},{"p":"d","h":2.6,"w":7.2,"z":43.3},{"p":"d","h":2.65,"w":7.2,"z":43},{"p":"d","h":2.7,"w":7.2,"z":42.9},{"p":"d","h":2.75,"w":7.2,"z":42.9},{"p":"d","h":2.8,"w":7.2,"z":43.2},{"p":"d","h":2.85,"w":7.2,"z":43.6},{"p":"d","h":2.9,"w":7.2,"z":44.2},{"p":"d","h":2.95,"w":7.2,"z":45},{"p":"d","h":3,"w":7.2,"z":45.9},
{"p":"d","h":2,"w":7.25,"z":61.3},{"p":"d","h":2.05,"w":7.25,"z":59},{"p":"d","h":2.1,"w":7.25,"z":56.8},{"p":"d","h":2.15,"w":7.25,"z":54.7},{"p":"d","h":2.2,"w":7.25,"z":52.9},{"p":"d","h":2.25,"w":7.25,"z":51.2},{"p":"d","h":2.3,"w":7.25,"z":49.8},{"p":"d","h":2.35,"w":7.25,"z":48.4},{"p":"d","h":2.4,"w":7.25,"z":47.3},{"p":"d","h":2.45,"w":7.25,"z":46.3},{"p":"d","h":2.5,"w":7.25,"z":45.5},{"p":"d","h":2.55,"w":7.25,"z":44.9},{"p":"d","h":2.6,"w":7.25,"z":44.4},{"p":"d","h":2.65,"w":7.25,"z":44.1},{"p":"d","h":2.7,"w":7.25,"z":44},{"p":"d","h":2.75,"w":7.25,"z":44},{"p":"d","h":2.8,"w":7.25,"z":44.3},{"p":"d","h":2.85,"w":7.25,"z":44.7},{"p":"d","h":2.9,"w":7.25,"z":45.3},{"p":"d","h":2.95,"w":7.25,"z":46},{"p":"d","h":3,"w":7.25,"z":46.9},
{"p":"d","h":2,"w":7.3,"z":61.9},{"p":"d","h":2.05,"w":7.3,"z":59.6},{"p":"d","h":2.1,"w":7.3,"z":57.5},{"p":"d","h":2.15,"w":7.3,"z":55.5},{"p":"d","h":2.2,"w":7.3,"z":53.7},{"p":"d","h":2.25,"w":7.3,"z":52.1},{"p":"d","h":2.3,"w":7.3,"z":50.7},{"p":"d","h":2.35,"w":7.3,"z":49.4},{"p":"d","h":2.4,"w":7.3,"z":48.3},{"p":"d","h":2.45,"w":7.3,"z":47.3},{"p":"d","h":2.5,"w":7.3,"z":46.5},{"p":"d","h":2.55,"w":7.3,"z":45.9},{"p":"d","h":2.6,"w":7.3,"z":45.5},{"p":"d","h":2.65,"w":7.3,"z":45.2},{"p":"d","h":2.7,"w":7.3,"z":45.1},{"p":"d","h":2.75,"w":7.3,"z":45.1},{"p":"d","h":2.8,"w":7.3,"z":45.4},{"p":"d","h":2.85,"w":7.3,"z":45.8},{"p":"d","h":2.9,"w":7.3,"z":46.3},{"p":"d","h":2.95,"w":7.3,"z":47},{"p":"d","h":3,"w":7.3,"z":47.9},
{"p":"d","h":2,"w":7.35,"z":62.5},{"p":"d","h":2.05,"w":7.35,"z":60.2},{"p":"d","h":2.1,"w":7.35,"z":58.2},{"p":"d","h":2.15,"w":7.35,"z":56.2},{"p":"d","h":2.2,"w":7.35,"z":54.5},{"p":"d","h":2.25,"w":7.35,"z":52.9},{"p":"d","h":2.3,"w":7.35,"z":51.5},{"p":"d","h":2.35,"w":7.35,"z":50.3},{"p":"d","h":2.4,"w":7.35,"z":49.2},{"p":"d","h":2.45,"w":7.35,"z":48.2},{"p":"d","h":2.5,"w":7.35,"z":47.5},{"p":"d","h":2.55,"w":7.35,"z":46.9},{"p":"d","h":2.6,"w":7.35,"z":46.5},{"p":"d","h":2.65,"w":7.35,"z":46.2},{"p":"d","h":2.7,"w":7.35,"z":46.1},{"p":"d","h":2.75,"w":7.35,"z":46.2},{"p":"d","h":2.8,"w":7.35,"z":46.4},{"p":"d","h":2.85,"w":7.35,"z":46.8},{"p":"d","h":2.9,"w":7.35,"z":47.4},{"p":"d","h":2.95,"w":7.35,"z":48.1},{"p":"d","h":3,"w":7.35,"z":49},
{"p":"d","h":2,"w":7.4,"z":63},{"p":"d","h":2.05,"w":7.4,"z":60.8},{"p":"d","h":2.1,"w":7.4,"z":58.8},{"p":"d","h":2.15,"w":7.4,"z":56.9},{"p":"d","h":2.2,"w":7.4,"z":55.2},{"p":"d","h":2.25,"w":7.4,"z":53.7},{"p":"d","h":2.3,"w":7.4,"z":52.3},{"p":"d","h":2.35,"w":7.4,"z":51.1},{"p":"d","h":2.4,"w":7.4,"z":50},{"p":"d","h":2.45,"w":7.4,"z":49.1},{"p":"d","h":2.5,"w":7.4,"z":48.4},{"p":"d","h":2.55,"w":7.4,"z":47.8},{"p":"d","h":2.6,"w":7.4,"z":47.4},{"p":"d","h":2.65,"w":7.4,"z":47.2},{"p":"d","h":2.7,"w":7.4,"z":47.1},{"p":"d","h":2.75,"w":7.4,"z":47.2},{"p":"d","h":2.8,"w":7.4,"z":47.4},{"p":"d","h":2.85,"w":7.4,"z":47.8},{"p":"d","h":2.9,"w":7.4,"z":48.4},{"p":"d","h":2.95,"w":7.4,"z":49.1},{"p":"d","h":3,"w":7.4,"z":50},
{"p":"d","h":2,"w":7.45,"z":63.5},{"p":"d","h":2.05,"w":7.45,"z":61.4},{"p":"d","h":2.1,"w":7.45,"z":59.4},{"p":"d","h":2.15,"w":7.45,"z":57.5},{"p":"d","h":2.2,"w":7.45,"z":55.9},{"p":"d","h":2.25,"w":7.45,"z":54.4},{"p":"d","h":2.3,"w":7.45,"z":53},{"p":"d","h":2.35,"w":7.45,"z":51.8},{"p":"d","h":2.4,"w":7.45,"z":50.8},{"p":"d","h":2.45,"w":7.45,"z":49.9},{"p":"d","h":2.5,"w":7.45,"z":49.2},{"p":"d","h":2.55,"w":7.45,"z":48.7},{"p":"d","h":2.6,"w":7.45,"z":48.3},{"p":"d","h":2.65,"w":7.45,"z":48.1},{"p":"d","h":2.7,"w":7.45,"z":48},{"p":"d","h":2.75,"w":7.45,"z":48.1},{"p":"d","h":2.8,"w":7.45,"z":48.4},{"p":"d","h":2.85,"w":7.45,"z":48.8},{"p":"d","h":2.9,"w":7.45,"z":49.4},{"p":"d","h":2.95,"w":7.45,"z":50.1},{"p":"d","h":3,"w":7.45,"z":51},
{"p":"d","h":2,"w":7.5,"z":64},{"p":"d","h":2.05,"w":7.5,"z":61.9},{"p":"d","h":2.1,"w":7.5,"z":59.9},{"p":"d","h":2.15,"w":7.5,"z":58.1},{"p":"d","h":2.2,"w":7.5,"z":56.5},{"p":"d","h":2.25,"w":7.5,"z":55},{"p":"d","h":2.3,"w":7.5,"z":53.7},{"p":"d","h":2.35,"w":7.5,"z":52.5},{"p":"d","h":2.4,"w":7.5,"z":51.5},{"p":"d","h":2.45,"w":7.5,"z":50.7},{"p":"d","h":2.5,"w":7.5,"z":50},{"p":"d","h":2.55,"w":7.5,"z":49.5},{"p":"d","h":2.6,"w":7.5,"z":49.1},{"p":"d","h":2.65,"w":7.5,"z":48.9},{"p":"d","h":2.7,"w":7.5,"z":48.9},{"p":"d","h":2.75,"w":7.5,"z":49},{"p":"d","h":2.8,"w":7.5,"z":49.3},{"p":"d","h":2.85,"w":7.5,"z":49.7},{"p":"d","h":2.9,"w":7.5,"z":50.3},{"p":"d","h":2.95,"w":7.5,"z":51.1},{"p":"d","h":3,"w":7.5,"z":52},
{"p":"d","h":2,"w":7.55,"z":64.5},{"p":"d","h":2.05,"w":7.55,"z":62.4},{"p":"d","h":2.1,"w":7.55,"z":60.4},{"p":"d","h":2.15,"w":7.55,"z":58.6},{"p":"d","h":2.2,"w":7.55,"z":57},{"p":"d","h":2.25,"w":7.55,"z":55.6},{"p":"d","h":2.3,"w":7.55,"z":54.3},{"p":"d","h":2.35,"w":7.55,"z":53.1},{"p":"d","h":2.4,"w":7.55,"z":52.2},{"p":"d","h":2.45,"w":7.55,"z":51.4},{"p":"d","h":2.5,"w":7.55,"z":50.7},{"p":"d","h":2.55,"w":7.55,"z":50.2},{"p":"d","h":2.6,"w":7.55,"z":49.9},{"p":"d","h":2.65,"w":7.55,"z":49.7},{"p":"d","h":2.7,"w":7.55,"z":49.7},{"p":"d","h":2.75,"w":7.55,"z":49.9},{"p":"d","h":2.8,"w":7.55,"z":50.2},{"p":"d","h":2.85,"w":7.55,"z":50.6},{"p":"d","h":2.9,"w":7.55,"z":51.3},{"p":"d","h":2.95,"w":7.55,"z":52.1},{"p":"d","h":3,"w":7.55,"z":53},
{"p":"d","h":2,"w":7.6,"z":64.9},{"p":"d","h":2.05,"w":7.6,"z":62.8},{"p":"d","h":2.1,"w":7.6,"z":60.9},{"p":"d","h":2.15,"w":7.6,"z":59.1},{"p":"d","h":2.2,"w":7.6,"z":57.5},{"p":"d","h":2.25,"w":7.6,"z":56.1},{"p":"d","h":2.3,"w":7.6,"z":54.8},{"p":"d","h":2.35,"w":7.6,"z":53.7},{"p":"d","h":2.4,"w":7.6,"z":52.8},{"p":"d","h":2.45,"w":7.6,"z":52},{"p":"d","h":2.5,"w":7.6,"z":51.3},{"p":"d","h":2.55,"w":7.6,"z":50.9},{"p":"d","h":2.6,"w":7.6,"z":50.6},{"p":"d","h":2.65,"w":7.6,"z":50.4},{"p":"d","h":2.7,"w":7.6,"z":50.5},{"p":"d","h":2.75,"w":7.6,"z":50.7},{"p":"d","h":2.8,"w":7.6,"z":51},{"p":"d","h":2.85,"w":7.6,"z":51.5},{"p":"d","h":2.9,"w":7.6,"z":52.2},{"p":"d","h":2.95,"w":7.6,"z":53},{"p":"d","h":3,"w":7.6,"z":54.1},
{"p":"d","h":2,"w":7.65,"z":65.4},{"p":"d","h":2.05,"w":7.65,"z":63.3},{"p":"d","h":2.1,"w":7.65,"z":61.3},{"p":"d","h":2.15,"w":7.65,"z":59.6},{"p":"d","h":2.2,"w":7.65,"z":58},{"p":"d","h":2.25,"w":7.65,"z":56.5},{"p":"d","h":2.3,"w":7.65,"z":55.3},{"p":"d","h":2.35,"w":7.65,"z":54.2},{"p":"d","h":2.4,"w":7.65,"z":53.3},{"p":"d","h":2.45,"w":7.65,"z":52.5},{"p":"d","h":2.5,"w":7.65,"z":51.9},{"p":"d","h":2.55,"w":7.65,"z":51.5},{"p":"d","h":2.6,"w":7.65,"z":51.2},{"p":"d","h":2.65,"w":7.65,"z":51.1},{"p":"d","h":2.7,"w":7.65,"z":51.2},{"p":"d","h":2.75,"w":7.65,"z":51.4},{"p":"d","h":2.8,"w":7.65,"z":51.8},{"p":"d","h":2.85,"w":7.65,"z":52.4},{"p":"d","h":2.9,"w":7.65,"z":53.1},{"p":"d","h":2.95,"w":7.65,"z":54},{"p":"d","h":3,"w":7.65,"z":55.1},
{"p":"d","h":2,"w":7.7,"z":65.8},{"p":"d","h":2.05,"w":7.7,"z":63.7},{"p":"d","h":2.1,"w":7.7,"z":61.7},{"p":"d","h":2.15,"w":7.7,"z":60},{"p":"d","h":2.2,"w":7.7,"z":58.4},{"p":"d","h":2.25,"w":7.7,"z":56.9},{"p":"d","h":2.3,"w":7.7,"z":55.7},{"p":"d","h":2.35,"w":7.7,"z":54.6},{"p":"d","h":2.4,"w":7.7,"z":53.7},{"p":"d","h":2.45,"w":7.7,"z":53},{"p":"d","h":2.5,"w":7.7,"z":52.4},{"p":"d","h":2.55,"w":7.7,"z":52},{"p":"d","h":2.6,"w":7.7,"z":51.8},{"p":"d","h":2.65,"w":7.7,"z":51.7},{"p":"d","h":2.7,"w":7.7,"z":51.9},{"p":"d","h":2.75,"w":7.7,"z":52.1},{"p":"d","h":2.8,"w":7.7,"z":52.6},{"p":"d","h":2.85,"w":7.7,"z":53.2},{"p":"d","h":2.9,"w":7.7,"z":54},{"p":"d","h":2.95,"w":7.7,"z":55},{"p":"d","h":3,"w":7.7,"z":56.1},
{"p":"d","h":2,"w":7.75,"z":66.2},{"p":"d","h":2.05,"w":7.75,"z":64},{"p":"d","h":2.1,"w":7.75,"z":62.1},{"p":"d","h":2.15,"w":7.75,"z":60.3},{"p":"d","h":2.2,"w":7.75,"z":58.7},{"p":"d","h":2.25,"w":7.75,"z":57.3},{"p":"d","h":2.3,"w":7.75,"z":56},{"p":"d","h":2.35,"w":7.75,"z":55},{"p":"d","h":2.4,"w":7.75,"z":54.1},{"p":"d","h":2.45,"w":7.75,"z":53.4},{"p":"d","h":2.5,"w":7.75,"z":52.8},{"p":"d","h":2.55,"w":7.75,"z":52.5},{"p":"d","h":2.6,"w":7.75,"z":52.3},{"p":"d","h":2.65,"w":7.75,"z":52.3},{"p":"d","h":2.7,"w":7.75,"z":52.5},{"p":"d","h":2.75,"w":7.75,"z":52.8},{"p":"d","h":2.8,"w":7.75,"z":53.3},{"p":"d","h":2.85,"w":7.75,"z":54},{"p":"d","h":2.9,"w":7.75,"z":54.9},{"p":"d","h":2.95,"w":7.75,"z":56},{"p":"d","h":3,"w":7.75,"z":57.2},
{"p":"d","h":2,"w":7.8,"z":66.5},{"p":"d","h":2.05,"w":7.8,"z":64.3},{"p":"d","h":2.1,"w":7.8,"z":62.4},{"p":"d","h":2.15,"w":7.8,"z":60.6},{"p":"d","h":2.2,"w":7.8,"z":59},{"p":"d","h":2.25,"w":7.8,"z":57.6},{"p":"d","h":2.3,"w":7.8,"z":56.3},{"p":"d","h":2.35,"w":7.8,"z":55.3},{"p":"d","h":2.4,"w":7.8,"z":54.4},{"p":"d","h":2.45,"w":7.8,"z":53.7},{"p":"d","h":2.5,"w":7.8,"z":53.2},{"p":"d","h":2.55,"w":7.8,"z":52.9},{"p":"d","h":2.6,"w":7.8,"z":52.7},{"p":"d","h":2.65,"w":7.8,"z":52.8},{"p":"d","h":2.7,"w":7.8,"z":53},{"p":"d","h":2.75,"w":7.8,"z":53.4},{"p":"d","h":2.8,"w":7.8,"z":54},{"p":"d","h":2.85,"w":7.8,"z":54.8},{"p":"d","h":2.9,"w":7.8,"z":55.8},{"p":"d","h":2.95,"w":7.8,"z":56.9},{"p":"d","h":3,"w":7.8,"z":58.2},
{"p":"d","h":2,"w":7.85,"z":66.9},{"p":"d","h":2.05,"w":7.85,"z":64.6},{"p":"d","h":2.1,"w":7.85,"z":62.7},{"p":"d","h":2.15,"w":7.85,"z":60.8},{"p":"d","h":2.2,"w":7.85,"z":59.2},{"p":"d","h":2.25,"w":7.85,"z":57.8},{"p":"d","h":2.3,"w":7.85,"z":56.5},{"p":"d","h":2.35,"w":7.85,"z":55.5},{"p":"d","h":2.4,"w":7.85,"z":54.6},{"p":"d","h":2.45,"w":7.85,"z":54},{"p":"d","h":2.5,"w":7.85,"z":53.5},{"p":"d","h":2.55,"w":7.85,"z":53.2},{"p":"d","h":2.6,"w":7.85,"z":53.1},{"p":"d","h":2.65,"w":7.85,"z":53.2},{"p":"d","h":2.7,"w":7.85,"z":53.5},{"p":"d","h":2.75,"w":7.85,"z":54},{"p":"d","h":2.8,"w":7.85,"z":54.7},{"p":"d","h":2.85,"w":7.85,"z":55.6},{"p":"d","h":2.9,"w":7.85,"z":56.6},{"p":"d","h":2.95,"w":7.85,"z":57.9},{"p":"d","h":3,"w":7.85,"z":59.3},
{"p":"d","h":2,"w":7.9,"z":67.2},{"p":"d","h":2.05,"w":7.9,"z":64.9},{"p":"d","h":2.1,"w":7.9,"z":62.9},{"p":"d","h":2.15,"w":7.9,"z":61},{"p":"d","h":2.2,"w":7.9,"z":59.4},{"p":"d","h":2.25,"w":7.9,"z":57.9},{"p":"d","h":2.3,"w":7.9,"z":56.7},{"p":"d","h":2.35,"w":7.9,"z":55.6},{"p":"d","h":2.4,"w":7.9,"z":54.8},{"p":"d","h":2.45,"w":7.9,"z":54.2},{"p":"d","h":2.5,"w":7.9,"z":53.7},{"p":"d","h":2.55,"w":7.9,"z":53.5},{"p":"d","h":2.6,"w":7.9,"z":53.5},{"p":"d","h":2.65,"w":7.9,"z":53.6},{"p":"d","h":2.7,"w":7.9,"z":54},{"p":"d","h":2.75,"w":7.9,"z":54.6},{"p":"d","h":2.8,"w":7.9,"z":55.3},{"p":"d","h":2.85,"w":7.9,"z":56.3},{"p":"d","h":2.9,"w":7.9,"z":57.4},{"p":"d","h":2.95,"w":7.9,"z":58.8},{"p":"d","h":3,"w":7.9,"z":60.4},
{"p":"d","h":2,"w":7.95,"z":67.5},{"p":"d","h":2.05,"w":7.95,"z":65.1},{"p":"d","h":2.1,"w":7.95,"z":63.1},{"p":"d","h":2.15,"w":7.95,"z":61.1},{"p":"d","h":2.2,"w":7.95,"z":59.4},{"p":"d","h":2.25,"w":7.95,"z":58},{"p":"d","h":2.3,"w":7.95,"z":56.8},{"p":"d","h":2.35,"w":7.95,"z":55.7},{"p":"d","h":2.4,"w":7.95,"z":54.9},{"p":"d","h":2.45,"w":7.95,"z":54.3},{"p":"d","h":2.5,"w":7.95,"z":53.9},{"p":"d","h":2.55,"w":7.95,"z":53.7},{"p":"d","h":2.6,"w":7.95,"z":53.7},{"p":"d","h":2.65,"w":7.95,"z":53.9},{"p":"d","h":2.7,"w":7.95,"z":54.4},{"p":"d","h":2.75,"w":7.95,"z":55.1},{"p":"d","h":2.8,"w":7.95,"z":55.9},{"p":"d","h":2.85,"w":7.95,"z":57},{"p":"d","h":2.9,"w":7.95,"z":58.2},{"p":"d","h":2.95,"w":7.95,"z":59.8},{"p":"d","h":3,"w":7.95,"z":61.5},
{"p":"d","h":2,"w":8,"z":67.7},{"p":"d","h":2.05,"w":8,"z":65.3},{"p":"d","h":2.1,"w":8,"z":63.2},{"p":"d","h":2.15,"w":8,"z":61.2},{"p":"d","h":2.2,"w":8,"z":59.4},{"p":"d","h":2.25,"w":8,"z":58},{"p":"d","h":2.3,"w":8,"z":56.8},{"p":"d","h":2.35,"w":8,"z":55.8},{"p":"d","h":2.4,"w":8,"z":55},{"p":"d","h":2.45,"w":8,"z":54.4},{"p":"d","h":2.5,"w":8,"z":54},{"p":"d","h":2.55,"w":8,"z":53.9},{"p":"d","h":2.6,"w":8,"z":53.9},{"p":"d","h":2.65,"w":8,"z":54.2},{"p":"d","h":2.7,"w":8,"z":54.7},{"p":"d","h":2.75,"w":8,"z":55.5},{"p":"d","h":2.8,"w":8,"z":56.4},{"p":"d","h":2.85,"w":8,"z":57.6},{"p":"d","h":2.9,"w":8,"z":59},{"p":"d","h":2.95,"w":8,"z":60.7},{"p":"d","h":3,"w":8,"z":62.5}
]},
"transform":[
{"window":[{"op":"row_number","as":"n"}]},
{"calculate":"datum.p=='c'?datum.h-7:datum.h-2","as":"u"},
{"calculate":"datum.p=='c'?(6-datum.w)/3:datum.w-7","as":"v"},
{"calculate":"[(1-datum.u)*(1-datum.v),datum.u*(1-datum.v),datum.u*datum.v,(1-datum.u)*datum.v]","as":"m"},
{"calculate":"P[datum.p]","as":"q"},
{"calculate":"datum.z-datum.q.f","as":"t"},
{"calculate":"datum.m[0]*(datum.q.x[0]+datum.q.s[0]*datum.t)+datum.m[1]*(datum.q.x[1]+datum.q.s[1]*datum.t)+datum.m[2]*(datum.q.x[2]+datum.q.s[2]*datum.t)+datum.m[3]*(datum.q.x[3]+datum.q.s[3]*datum.t)","as":"sx"},
{"calculate":"datum.m[0]*(datum.q.y[0]-datum.q.r[0]*datum.t)+datum.m[1]*(datum.q.y[1]-datum.q.r[1]*datum.t)+datum.m[2]*(datum.q.y[2]-datum.q.r[2]*datum.t)+datum.m[3]*(datum.q.y[3]-datum.q.r[3]*datum.t)","as":"sy"}
],
"encoding":{
"x":{"field":"sx","type":"quantitative","axis":null,"scale":{"domain":[0,2255],"nice":false,"zero":false}},
"y":{"field":"sy","type":"quantitative","axis":null,"scale":{"domain":[3831,0],"nice":false,"zero":false}}
},
"layer":[
{"transform":[{"filter":"datum.k=='g'"}],"mark":{"type":"line","stroke":"#e2e2e2","strokeWidth":3},"encoding":{"detail":{"field":"g"},"order":{"field":"n"}}},
{"transform":[{"filter":"datum.k=='f'"}],"mark":{"type":"line","interpolate":"linear-closed","fill":"#636363","stroke":"#636363","strokeWidth":1},"encoding":{"detail":{"field":"g"},"order":{"field":"n"}}},
{"transform":[{"filter":"datum.k=='n'"}],"mark":{"type":"line","strokeWidth":3},"encoding":{"detail":{"field":"g"},"order":{"field":"n"},"stroke":{"field":"g","type":"nominal","legend":null,"scale":{"domain":["c1","c2","c3","c4","c5","d0","d1","d2","d3","d4","d5","d6","d7"],"range":["#4a7a8c","#3d8570","#46855a","#5a8545","#8a8a3a","#5a8545","#508a4a","#4a8a52","#458a68","#408a78","#408a74","#46855a","#508a4a"]}}}},
{"transform":[{"filter":"datum.k=='t'"},{"calculate":"replace(''+(datum.a=='u'?datum.h:datum.a=='v'?datum.w:datum.z),'.',',')","as":"l"}],"layer":[
{"mark":{"type":"circle","color":"#000000","opacity":1,"size":130}},
{"transform":[{"filter":"datum.a=='z'"}],"mark":{"type":"text","font":"Open Sans","fontSize":52,"color":"#3c3c3c","align":"right","baseline":"middle","dx":-30,"dy":-30},"encoding":{"text":{"field":"l"}}},
{"transform":[{"filter":"datum.a=='u'"}],"mark":{"type":"text","font":"Open Sans","fontSize":52,"color":"#3c3c3c","align":"right","baseline":"middle","dx":-31,"dy":38},"encoding":{"text":{"field":"l"}}},
{"transform":[{"filter":"datum.a=='v'"}],"mark":{"type":"text","font":"Open Sans","fontSize":52,"color":"#3c3c3c","align":"left","baseline":"middle","dx":32,"dy":38},"encoding":{"text":{"field":"l"}}}
]},
{"transform":[{"filter":"datum.k=='a'"}],"mark":{"type":"text","font":"Open Sans","fontSize":54,"color":"#3c3c3c","align":"center","baseline":"middle"},"encoding":{"text":{"field":"l"}}},
{"transform":[{"filter":"datum.k=='y'"}],"mark":{"type":"text","font":"Open Sans","fontSize":48,"color":"#3c3c3c","align":"center","baseline":"middle","angle":270},"encoding":{"text":{"field":"l"}}},
{"transform":[{"filter":"datum.k=='cap'"}],"mark":{"type":"text","font":"Liberation Serif","fontSize":74,"color":"#000000","align":"right","baseline":"middle","dx":-19,"text":"("}},
{"transform":[{"filter":"datum.k=='cap'"}],"mark":{"type":"text","font":"Liberation Serif","fontSize":74,"color":"#000000","align":"left","baseline":"middle","dx":19,"text":")"}},
{"transform":[{"filter":"datum.k=='cap'"}],"mark":{"type":"text","font":"Liberation Serif","fontSize":74,"fontWeight":"bold","color":"#000000","align":"center","baseline":"middle"},"encoding":{"text":{"field":"b"}}},
{"transform":[{"filter":"datum.k=='o'&&datum.r=='low'"}],"mark":{"type":"circle","color":"#f9c6c6","opacity":1,"size":900}},
{"transform":[
{"filter":"!isValid(datum.k)"},
{"calculate":"round(datum.u*20)","as":"i"},{"calculate":"round(datum.v*20)","as":"j"},
{"calculate":"[0,1,2,3]","as":"c"},{"flatten":["c"]},
{"calculate":"datum.i-((datum.c==1||datum.c==2)?1:0)","as":"ci"},
{"calculate":"datum.j-((datum.c==2||datum.c==3)?1:0)","as":"cj"},
{"filter":"datum.ci>=0&&datum.ci<20&&datum.cj>=0&&datum.cj<20"},
{"calculate":"datum.p+'_'+datum.ci+'_'+datum.cj","as":"cell"},
{"joinaggregate":[{"op":"mean","field":"z","as":"zc"}],"groupby":["cell"]}
],"layer":[
{"mark":{"type":"line","interpolate":"linear-closed","strokeWidth":1.5},"encoding":{"detail":{"field":"cell"},"order":{"field":"c"},
"fill":{"field":"zc","type":"quantitative","legend":null,"scale":{"domain":[25,38,57,73,92],"range":["#0000ff","#00ffff","#00ff00","#ffff00","#ff0000"],"interpolate":"rgb"}},
"stroke":{"field":"zc","type":"quantitative","legend":null,"scale":{"domain":[25,38,57,73,92],"range":["#0000ff","#00ffff","#00ff00","#ffff00","#ff0000"],"interpolate":"rgb"}}}},
{"mark":{"type":"line","interpolate":"linear-closed","stroke":"#004030","strokeOpacity":0.1,"strokeWidth":1.5},"encoding":{"detail":{"field":"cell"},"order":{"field":"c"}}}
]},
{"transform":[{"filter":"datum.k=='m'"}],"mark":{"type":"line","stroke":"#006030","strokeOpacity":0.2,"strokeWidth":2},"encoding":{"order":{"field":"n"}}},
{"transform":[{"filter":"datum.k=='o'&&datum.r=='high'"}],"mark":{"type":"circle","color":"#b80000","opacity":1,"size":950}}
]}
